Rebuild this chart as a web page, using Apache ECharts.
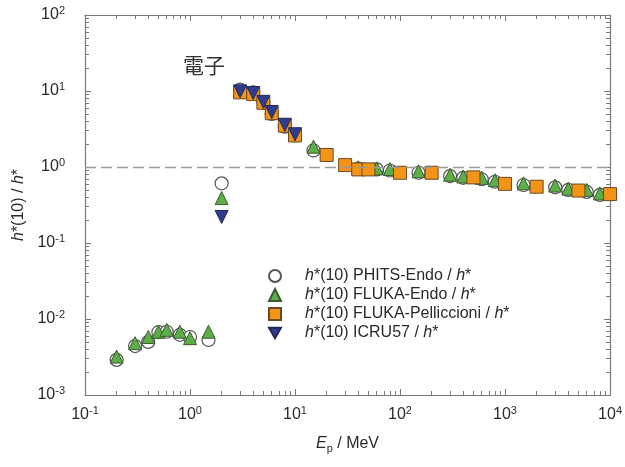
<!DOCTYPE html>
<html>
<head>
<meta charset="utf-8">
<script src="https://cdn.jsdelivr.net/npm/echarts@6/dist/echarts.min.js"></script>
<style>
html,body{margin:0;padding:0;background:#fff;}
#c{width:625px;height:467px;}
</style>
</head>
<body>
<div id="c"></div>
<script>
// ---- data ----
const energyPHITS = [0.2,0.3,0.4,0.5,0.6,0.8,1.0,1.5,2,3,4,5,6,8,10,15,40,60,80,150,300,400,600,800,1500,3000,4000,6000,8000];
const valuesPHITS = [0.0029,0.0044,0.0050,0.0067,0.0068,0.0062,0.0058,0.0053,0.61,10.4,9.6,7.0,5.0,3.4,2.6,1.65,0.95,0.93,0.90,0.84,0.76,0.72,0.69,0.64,0.58,0.54,0.50,0.47,0.43];

const energyFLUKAEndo = [0.2,0.3,0.4,0.5,0.6,0.8,1.0,1.5,2,15,40,60,80,150,300,400,600,800,1500,3000,4000,6000,8000];
const valuesFLUKAEndo = [0.0032,0.0048,0.0058,0.0068,0.0072,0.0068,0.0056,0.0068,0.39,1.85,0.99,0.96,0.94,0.88,0.79,0.75,0.72,0.67,0.61,0.57,0.52,0.50,0.45];

const energyPellic = [3,4,5,6,8,10,20,30,40,50,100,200,500,1000,2000,5000,10000];
const valuesPellic = [9.6,9.1,7.0,5.1,3.5,2.6,1.44,1.06,0.93,0.93,0.84,0.84,0.73,0.60,0.55,0.49,0.44];

const energyICRU = [2,3,4,5,6,8,10];
const valuesICRU = [0.22,9.9,9.4,7.2,5.3,3.6,2.7];

const seriesNames = ['PHITS-Endo','FLUKA-Endo','FLUKA-Pelliccioni','ICRU57'];
const decadeExponentsX = [-1,0,1,2,3,4];
const decadeExponentsY = [-3,-2,-1,0,1,2];
const annotationText = '電子';

// ---- helpers ----
const pairs = (xs, ys) => xs.map((x, i) => [x, ys[i]]);
const minorTicks = (lo, hi) => {
  const out = [];
  for (let n = lo; n < hi; n++) for (let k = 2; k <= 9; k++) out.push(Math.log10(k) + n);
  return out;
};
const FONT = "'Liberation Sans', Arial, sans-serif";
const AXIS_COLOR = '#7a7a7a';
const TEXT_COLOR = '#2a2a2a';

const supRich = {
  b: {fontSize: 16, color: TEXT_COLOR, fontFamily: FONT},
  s: {fontSize: 11, color: TEXT_COLOR, fontFamily: FONT, padding: [0,0,9,0]}
};
const powLabel = v => '{b|10}{s|' + Math.round(Math.log10(v)) + '}';

const helperAxis = (pos, lo, hi, ticks, len, showLine) => ({
  type: 'value', position: pos, min: lo, max: hi, gridIndex: 0,
  axisLine: {show: showLine, onZero: false, lineStyle: {color: AXIS_COLOR, width: 1.2}},
  axisTick: {show: true, inside: true, length: len, customValues: ticks, lineStyle: {color: AXIS_COLOR, width: 1}},
  axisLabel: {show: false},
  splitLine: {show: false},
  silent: true
});

const mainX = {
  type: 'log', logBase: 10, min: 0.1, max: 10000, position: 'bottom', gridIndex: 0,
  axisLine: {show: true, onZero: false, lineStyle: {color: AXIS_COLOR, width: 1.2}},
  axisTick: {show: true, inside: true, length: 6, lineStyle: {color: AXIS_COLOR, width: 1}},
  axisLabel: {formatter: powLabel, rich: supRich, margin: 10},
  splitLine: {show: false},
  name: '{i|E}{sub|p} / MeV',
  nameLocation: 'middle', nameGap: 39,
  nameTextStyle: {
    fontSize: 16, color: TEXT_COLOR, fontFamily: FONT,
    rich: {
      i: {fontSize: 16, fontStyle: 'italic', color: TEXT_COLOR, fontFamily: FONT},
      sub: {fontSize: 11, color: TEXT_COLOR, fontFamily: FONT, padding: [9,0,0,0]}
    }
  }
};
const mainY = {
  type: 'log', logBase: 10, min: 0.001, max: 100, position: 'left', gridIndex: 0,
  axisLine: {show: true, onZero: false, lineStyle: {color: AXIS_COLOR, width: 1.2}},
  axisTick: {show: true, inside: true, length: 6, lineStyle: {color: AXIS_COLOR, width: 1}},
  axisLabel: {formatter: powLabel, rich: supRich, margin: 20},
  splitLine: {show: false},
  name: '{i|h}*(10) / {i|h}*',
  nameLocation: 'middle', nameGap: 57, nameRotate: 90,
  nameTextStyle: {
    fontSize: 16, color: TEXT_COLOR, fontFamily: FONT,
    rich: {i: {fontSize: 16, fontStyle: 'italic', color: TEXT_COLOR, fontFamily: FONT}}
  }
};

const markerSize = 13;
const invTri = 'path://M0,0L20,0L10,17.32Z';

const option = {
  backgroundColor: '#fff',
  animation: false,
  textStyle: {fontFamily: FONT},
  grid: {left: 85, right: 14, top: 15, bottom: 72, containLabel: false},
  xAxis: [
    mainX,
    helperAxis('bottom', -1, 4, minorTicks(-1, 4), 4, false),
    helperAxis('top', -1, 4, decadeExponentsX, 6, true),
    helperAxis('top', -1, 4, minorTicks(-1, 4), 4, false)
  ],
  yAxis: [
    mainY,
    helperAxis('left', -3, 2, minorTicks(-3, 2), 4, false),
    helperAxis('right', -3, 2, decadeExponentsY, 6, true),
    helperAxis('right', -3, 2, minorTicks(-3, 2), 4, false)
  ],
  legend: {
    orient: 'vertical', left: 263, top: 263,
    itemWidth: 12, itemHeight: 12, itemGap: 3,
    data: seriesNames,
    formatter: n => '{i|h}*(10) ' + n + ' / {i|h}*',
    textStyle: {
      fontSize: 16, color: TEXT_COLOR, fontFamily: FONT, padding: [0,0,0,19], lineHeight: 15,
      rich: {i: {fontSize: 16, fontStyle: 'italic', color: TEXT_COLOR, fontFamily: FONT}}
    }
  },
  graphic: [{
    type: 'text', left: 183, top: 55,
    style: {text: annotationText, fontSize: 21, fill: '#333', fontFamily: "'Noto Sans CJK JP', 'Noto Sans CJK SC', sans-serif"}
  }],
  series: [
    {
      name: seriesNames[0], type: 'scatter', xAxisIndex: 0, yAxisIndex: 0,
      symbol: 'circle', symbolSize: markerSize,
      itemStyle: {color: '#ffffff', borderColor: '#555', borderWidth: 1.2, opacity: 1},
      data: pairs(energyPHITS, valuesPHITS),
      markLine: {
        silent: true, symbol: 'none', label: {show: false},
        lineStyle: {type: [11, 5], color: '#9a9a9a', width: 1.3},
        data: [{yAxis: 1}]
      },
      z: 2
    },
    {
      name: seriesNames[1], type: 'scatter', xAxisIndex: 0, yAxisIndex: 0,
      symbol: 'triangle', symbolSize: markerSize,
      itemStyle: {color: '#5cae48', borderColor: '#3b5a30', borderWidth: 1, opacity: 1},
      data: pairs(energyFLUKAEndo, valuesFLUKAEndo),
      z: 3
    },
    {
      name: seriesNames[2], type: 'scatter', xAxisIndex: 0, yAxisIndex: 0,
      symbol: 'rect', symbolSize: markerSize,
      itemStyle: {color: '#f39419', borderColor: '#6b4a22', borderWidth: 1, opacity: 1},
      data: pairs(energyPellic, valuesPellic),
      z: 4
    },
    {
      name: seriesNames[3], type: 'scatter', xAxisIndex: 0, yAxisIndex: 0,
      symbol: invTri, symbolSize: markerSize,
      itemStyle: {color: '#2f3d8f', borderColor: '#222a5c', borderWidth: 1, opacity: 1},
      data: pairs(energyICRU, valuesICRU),
      z: 5
    }
  ]
};

const chart = echarts.init(document.getElementById('c'), null, {renderer: 'canvas'});
chart.setOption(option);
</script>
</body>
</html>
